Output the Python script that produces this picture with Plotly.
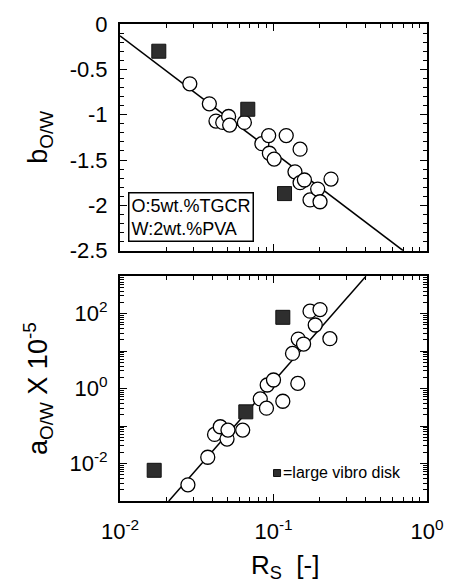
import plotly.graph_objects as go

# ---- data ----
rs_circ_b = [0.0285, 0.0382, 0.0422, 0.0467, 0.0510, 0.0518, 0.0646, 0.084, 0.093, 0.094,
             0.101, 0.121, 0.138, 0.149, 0.149, 0.159, 0.173, 0.194, 0.201, 0.237]
b_circ = [-0.66, -0.88, -1.07, -1.085, -1.02, -1.115, -1.085, -1.32, -1.23, -1.425,
          -1.49, -1.23, -1.63, -1.38, -1.75, -1.72, -1.94, -1.82, -1.96, -1.71]
rs_sq_b = [0.0179, 0.068, 0.118]
b_sq = [-0.30, -0.94, -1.87]
fit_b_x = [0.01, 0.70]
fit_b_y = [-0.13, -2.5]

rs_circ_a = [0.0277, 0.0373, 0.0413, 0.0450, 0.0498, 0.0505, 0.063, 0.082, 0.090, 0.091,
             0.100, 0.115, 0.133, 0.145, 0.157, 0.144, 0.173, 0.187, 0.201, 0.233]
a_circ = [0.0027, 0.0147, 0.060, 0.096, 0.045, 0.078, 0.078, 0.53, 0.30, 1.25,
          1.7, 0.46, 8.7, 21, 15.5, 1.38, 117, 50, 129, 21.5]
rs_sq_a = [0.0167, 0.066, 0.115]
a_sq = [0.0066, 0.24, 80]
fit_a_x = [0.0208, 0.40]
fit_a_y = [0.001, 1000]

x_tickvals = [0.01, 0.1, 1]
x_ticktext = ["10<sup>-2</sup>", "10<sup>-1</sup>", "10<sup>0</sup>"]
b_tickvals = [0, -0.5, -1, -1.5, -2, -2.5]
b_ticktext = ["0", "-0.5", "-1", "-1.5", "-2", "-2.5"]
a_tickvals = [1e-3, 1e-2, 1e-1, 1, 10, 100, 1000]
a_ticktext = ["", "10<sup>-2</sup>", "", "10<sup>0</sup>", "", "10<sup>2</sup>", ""]

FONT = "Liberation Sans, Arial, Helvetica, sans-serif"

x_minor = [m * 10.0 ** k for k in range(-2, 0) for m in range(2, 10)]
a_minor = [m * 10.0 ** k for k in range(-3, 3) for m in range(2, 10)]
b_minor = [round(-0.1 * i, 2) for i in range(0, 26) if i % 5 != 0]

fig = go.Figure()

circ = dict(symbol="circle", size=14, color="white", line=dict(color="black", width=1.3))
sq = dict(symbol="square", size=14, color="#2e2e2e", line=dict(color="#111111", width=1))
ln = dict(color="black", width=1.5)

fig.add_trace(go.Scatter(x=fit_b_x, y=fit_b_y, mode="lines", line=ln, xaxis="x", yaxis="y"))
fig.add_trace(go.Scatter(x=rs_circ_b, y=b_circ, mode="markers", marker=circ, xaxis="x", yaxis="y"))
fig.add_trace(go.Scatter(x=rs_sq_b, y=b_sq, mode="markers", marker=sq, xaxis="x", yaxis="y"))

fig.add_trace(go.Scatter(x=fit_a_x, y=fit_a_y, mode="lines", line=ln, xaxis="x2", yaxis="y2"))
fig.add_trace(go.Scatter(x=rs_circ_a, y=a_circ, mode="markers", marker=circ, xaxis="x2", yaxis="y2"))
fig.add_trace(go.Scatter(x=rs_sq_a, y=a_sq, mode="markers", marker=sq, xaxis="x2", yaxis="y2"))

axis_common = dict(showline=True, linecolor="black", linewidth=2, mirror="ticks",
                   ticks="inside", ticklen=7, tickwidth=1.2, tickcolor="black",
                   showgrid=False, zeroline=False,
                   tickfont=dict(family=FONT, size=22, color="black"))

fig.update_layout(
    width=456, height=587,
    margin=dict(l=120, r=26, t=15, b=86),
    paper_bgcolor="white", plot_bgcolor="white",
    showlegend=False,
    font=dict(family=FONT, color="black"),
    xaxis=dict(axis_common, type="log", range=[-2, 0], domain=[0, 1], anchor="y",
               tickmode="array", tickvals=x_tickvals, ticktext=x_ticktext, showticklabels=False,
               minor=dict(tickmode="array", tickvals=x_minor, ticks="inside", ticklen=4,
                          tickwidth=1, tickcolor="black")),
    yaxis=dict(axis_common, range=[-2.5, 0], domain=[0.5247, 1], anchor="x",
               tickmode="array", tickvals=b_tickvals, ticktext=b_ticktext, ticklabelstandoff=6,
               minor=dict(tickmode="array", tickvals=b_minor, ticks="inside", ticklen=4,
                          tickwidth=1, tickcolor="black"),
               title=dict(text="b<sub>O/W</sub>", font=dict(family=FONT, size=27), standoff=14)),
    xaxis2=dict(axis_common, type="log", range=[-2, 0], domain=[0, 1], anchor="y2",
                tickmode="array", tickvals=x_tickvals, ticktext=x_ticktext, ticklabelstandoff=10,
                minor=dict(tickmode="array", tickvals=x_minor, ticks="inside", ticklen=4,
                           tickwidth=1, tickcolor="black")),
    yaxis2=dict(axis_common, type="log", range=[-3, 3], domain=[0, 0.4712], anchor="x2",
                tickmode="array", tickvals=a_tickvals, ticktext=a_ticktext, ticklabelstandoff=6,
                minor=dict(tickmode="array", tickvals=a_minor, ticks="inside", ticklen=4,
                           tickwidth=1, tickcolor="black"),
                title=dict(text="a<sub>O/W</sub> X 10<sup>-5</sup>", font=dict(family=FONT, size=27),
                           standoff=14)),
)

fig.add_annotation(xref="x domain", yref="y domain", x=0.026, y=0.04,
                   xanchor="left", yanchor="bottom", align="left", showarrow=False,
                   text="O:5wt.%TGCR<br>W:2wt.%PVA",
                   font=dict(family=FONT, size=18, color="black"),
                   bordercolor="black", borderwidth=1.5, borderpad=2, bgcolor="white")

fig.add_shape(type="rect", xref="x2 domain", yref="y2 domain",
              x0=0.50, x1=0.523, y0=0.109, y1=0.14,
              fillcolor="#2e2e2e", line=dict(color="#111111", width=1))
fig.add_annotation(xref="x2 domain", yref="y2 domain", x=0.526, y=0.125,
                   xanchor="left", yanchor="middle", showarrow=False,
                   text="=large vibro disk", font=dict(family=FONT, size=16, color="black"))

fig.add_annotation(xref="paper", yref="paper", x=0.539, y=-0.138,
                   xanchor="center", yanchor="middle", showarrow=False,
                   text="R<sub>S</sub>\u00a0\u00a0[-]", font=dict(family=FONT, size=26, color="black"))

fig.write_html("out.html")
